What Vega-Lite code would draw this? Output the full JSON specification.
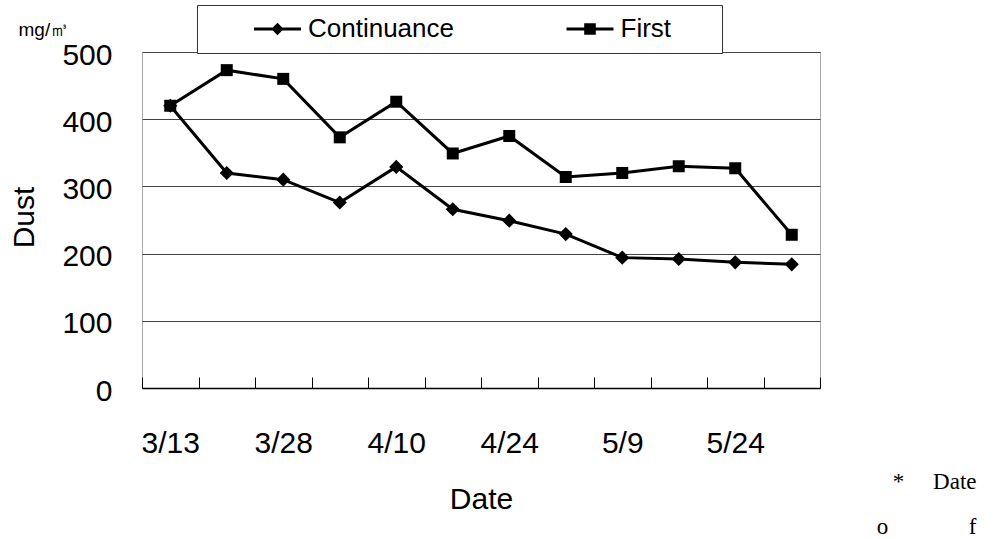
{
  "$schema": "https://vega.github.io/schema/vega-lite/v6.json",
  "width": 678,
  "height": 336,
  "autosize": {"type": "none"},
  "padding": {"left": 142, "top": 52, "right": 174, "bottom": 151},
  "background": "white",
  "config": {
    "font": "Liberation Sans",
    "view": {"stroke": "#555", "strokeDash": [1, 1], "strokeWidth": 1}
  },
  "data": {
    "values": [
      {"date": "3/13", "series": "Continuance", "value": 420},
      {"date": "3/20", "series": "Continuance", "value": 320},
      {"date": "3/28", "series": "Continuance", "value": 310},
      {"date": "4/3", "series": "Continuance", "value": 276},
      {"date": "4/10", "series": "Continuance", "value": 329},
      {"date": "4/17", "series": "Continuance", "value": 266},
      {"date": "4/24", "series": "Continuance", "value": 249},
      {"date": "5/2", "series": "Continuance", "value": 229},
      {"date": "5/9", "series": "Continuance", "value": 194},
      {"date": "5/17", "series": "Continuance", "value": 192},
      {"date": "5/24", "series": "Continuance", "value": 187},
      {"date": "5/31", "series": "Continuance", "value": 184},
      {"date": "3/13", "series": "First", "value": 420},
      {"date": "3/20", "series": "First", "value": 473},
      {"date": "3/28", "series": "First", "value": 460},
      {"date": "4/3", "series": "First", "value": 373},
      {"date": "4/10", "series": "First", "value": 426},
      {"date": "4/17", "series": "First", "value": 349},
      {"date": "4/24", "series": "First", "value": 375},
      {"date": "5/2", "series": "First", "value": 314},
      {"date": "5/9", "series": "First", "value": 320},
      {"date": "5/17", "series": "First", "value": 330},
      {"date": "5/24", "series": "First", "value": 327},
      {"date": "5/31", "series": "First", "value": 228}
    ]
  },
  "layer": [
    {
      "mark": {"type": "line", "color": "black", "strokeWidth": 3},
      "encoding": {
        "x": {
          "field": "date",
          "type": "ordinal",
          "sort": null,
          "scale": {"type": "band", "paddingInner": 0, "paddingOuter": 0},
          "axis": {
            "orient": "bottom",
            "title": "Date",
            "titleFontSize": 30,
            "titleFontWeight": "normal",
            "titleColor": "black",
            "titleBaseline": "alphabetic",
            "titleY": 120,
            "labelAngle": 0,
            "labelFontSize": 30,
            "labelColor": "black",
            "labelBaseline": "alphabetic",
            "labelPadding": 75,
            "labelExpr": "indexof(['3/13','3/28','4/10','4/24','5/9','5/24'], datum.value) >= 0 ? datum.value : ''",
            "tickBand": "extent",
            "tickSize": -11,
            "tickColor": "black",
            "tickWidth": 1,
            "domainColor": "black",
            "domainWidth": 1.5,
            "grid": false
          }
        },
        "detail": {"field": "series"},
        "y": {
          "field": "value",
          "type": "quantitative",
          "scale": {"domain": [0, 500], "nice": false},
          "axis": {
            "title": "Dust",
            "titleFontSize": 30,
            "titleFontWeight": "normal",
            "titleColor": "black",
            "titleBaseline": "alphabetic",
            "titleAngle": -90,
            "titleX": -109,
            "titleY": 165,
            "values": [0, 100, 200, 300, 400, 500],
            "labelFontSize": 30,
            "labelColor": "black",
            "labelPadding": 30,
            "labelOffset": 3,
            "labelFlush": false,
            "labelBaseline": "middle",
            "ticks": false,
            "domain": false,
            "grid": true,
            "gridColor": "#444",
            "gridWidth": 1
          }
        }
      }
    },
    {
      "mark": {"type": "point", "filled": true, "color": "black", "opacity": 1},
      "encoding": {
        "x": {"field": "date", "type": "ordinal", "sort": null, "axis": null},
        "y": {"field": "value", "type": "quantitative", "axis": null},
        "shape": {
          "field": "series",
          "type": "nominal",
          "scale": {"domain": ["Continuance", "First"], "range": ["diamond", "square"]},
          "legend": null
        },
        "size": {
          "field": "series",
          "type": "nominal",
          "scale": {"domain": ["Continuance", "First"], "range": [200, 144]},
          "legend": null
        }
      }
    },
    {
      "transform": [{"filter": "datum.value < 0"}],
      "mark": {"type": "point", "filled": true, "color": "black"},
      "encoding": {
        "x": {
          "field": "date",
          "type": "ordinal",
          "sort": null,
          "axis": {
            "orient": "top",
            "labels": false,
            "ticks": false,
            "domain": false,
            "grid": false,
            "title": "mg/㎥",
            "titleFont": "Liberation Sans",
            "titleFontSize": 19,
            "titleFontWeight": "normal",
            "titleColor": "black",
            "titleAngle": 0,
            "titleAlign": "left",
            "titleBaseline": "alphabetic",
            "titleX": -124,
            "titleY": -17
          }
        },
        "y": {
          "field": "value",
          "type": "quantitative",
          "axis": {
            "orient": "right",
            "labels": false,
            "ticks": false,
            "domain": false,
            "grid": false,
            "title": ["*\u00a0\u00a0\u00a0\u00a0\u00a0Date", "o\u00a0\u00a0\u00a0\u00a0\u00a0\u00a0\u00a0\u00a0\u00a0\u00a0\u00a0\u00a0\u00a0\u00a0f"],
            "titleFont": "Liberation Serif",
            "titleFontSize": 23,
            "titleFontWeight": "normal",
            "titleColor": "black",
            "titleAngle": 0,
            "titleAlign": "right",
            "titleBaseline": "alphabetic",
            "titleX": 156,
            "titleY": 436,
            "titleLineHeight": 45
          }
        },
        "shape": {
          "field": "series",
          "type": "nominal",
          "scale": {
            "domain": ["Continuance", "First"],
            "range": [
              "M-2.35,-0.15H2.35V0.15H-2.35ZM0,-0.62L0.62,0L0,0.62L-0.62,0Z",
              "M-2.35,-0.15H2.35V0.15H-2.35ZM-0.58,-0.58H0.58V0.58H-0.58ZM12,0h0.01v0.01Z"
            ]
          },
          "legend": {
            "title": null,
            "orient": "none",
            "direction": "horizontal",
            "legendX": 55,
            "legendY": -47,
            "padding": 11,
            "strokeColor": "#333",
            "fillColor": "white",
            "symbolSize": 400,
            "symbolOffset": 56.5,
            "symbolStrokeWidth": 0,
            "symbolFillColor": "black",
            "symbolOpacity": 1,
            "labelFontSize": 26,
            "labelColor": "black",
            "labelOffset": 17.5,
            "columnPadding": 66.5
          }
        }
      }
    }
  ],
  "resolve": {"scale": {"shape": "independent", "size": "independent"}, "axis": {"y": "independent", "x": "independent"}}
}
